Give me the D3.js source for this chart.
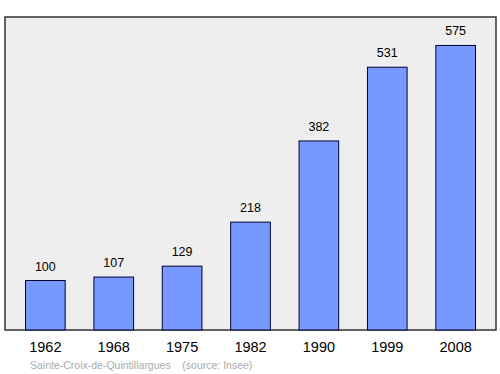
<!DOCTYPE html>
<html>
<head>
<meta charset="utf-8">
<script src="https://cdn.jsdelivr.net/npm/d3@7"></script>
<style>
  body { margin: 0; background: #fff; }
  svg { display: block; font-family: "Liberation Sans", Arial, sans-serif; }
</style>
</head>
<body>
<svg width="500" height="374"></svg>
<script>
var years = ['1962', '1968', '1975', '1982', '1990', '1999', '2008'];
var population = [100, 107, 129, 218, 382, 531, 575];
var townName = 'Sainte-Croix-de-Quintillargues';
var sourceLabel = '(source: Insee)';

var data = years.map(function(y, i) { return {year: y, pop: population[i]}; });

var svg = d3.select('svg'),
  box = {left: 5, top: 17, right: 496, bottom: 330};

var x = d3.scaleBand()
    .domain(years)
    .range([box.left, box.right])
    .paddingInner(0.42)
    .paddingOuter(0.3);

var y = d3.scaleLinear()
    .domain([0, d3.max(population) * 1.1])
    .range([box.bottom, box.top]);

svg.append('rect')
  .attr('x', box.left)
  .attr('y', box.top)
  .attr('width', box.right - box.left)
  .attr('height', box.bottom - box.top)
  .attr('fill', '#eeeeee')
  .attr('stroke', '#333')
  .attr('stroke-width', 1.5);

svg.selectAll('.bar')
  .data(data)
  .enter().append('rect')
  .attr('class', 'bar')
  .attr('x', function(d) { return x(d.year); })
  .attr('y', function(d) { return y(d.pop); })
  .attr('width', x.bandwidth())
  .attr('height', function(d) { return box.bottom - y(d.pop); })
  .attr('fill', '#7799ff')
  .attr('stroke', '#000033')
  .attr('stroke-width', 1);

svg.selectAll('.value')
  .data(data)
  .enter().append('text')
  .attr('class', 'value')
  .attr('x', function(d) { return x(d.year) + x.bandwidth() / 2; })
  .attr('y', function(d) { return y(d.pop) - 10; })
  .attr('text-anchor', 'middle')
  .attr('font-size', 12.5)
  .attr('fill', '#000')
  .text(function(d) { return d.pop; });

var xAxis = svg.append('g')
  .attr('transform', 'translate(0,' + box.bottom + ')')
  .call(d3.axisBottom(x).tickSize(0).tickPadding(11.5));
xAxis.select('.domain').remove();
xAxis.selectAll('text')
  .attr('font-size', 14.5)
  .attr('font-family', '"Liberation Sans", Arial, sans-serif')
  .attr('fill', '#000');

svg.append('text')
  .attr('x', 30)
  .attr('y', 369)
  .attr('font-size', 10.5)
  .attr('fill', '#aaaaaa')
  .attr('xml:space', 'preserve')
  .text(townName + '    ' + sourceLabel);
</script>
</body>
</html>
